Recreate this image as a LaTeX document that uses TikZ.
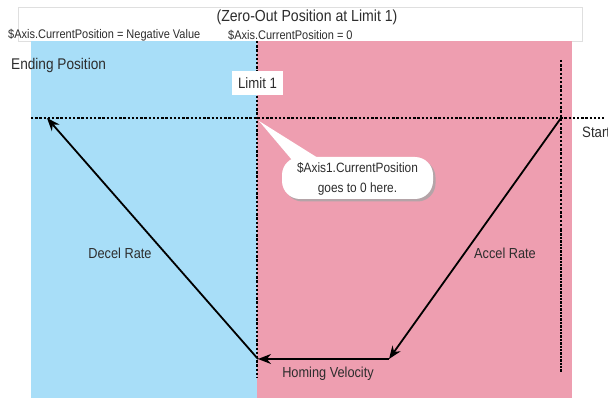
\documentclass[tikz,border=0pt]{standalone}
\usepackage{fontspec}
\setmainfont{Liberation Sans}[FakeStretch=0.88]
\usetikzlibrary{arrows.meta}
\definecolor{zoneblue}{RGB}{168,222,248}
\definecolor{zonepink}{RGB}{238,158,176}
\definecolor{txt}{RGB}{45,45,45}
\tikzset{
  lbl/.style={inner sep=0pt, text=txt, font=\fontsize{14.5}{17}\selectfont},
  dotline/.style={line width=2.4pt, dash pattern=on 2.4pt off 1.8pt, black},
  motion/.style={line width=1.8pt, black, -{Stealth[length=13pt,width=10pt]}},
}
\begin{document}
\begin{tikzpicture}[x=1pt,y=-1pt]
\useasboundingbox (0,0) rectangle (608,398);
\fill[white] (0,0) rectangle (608,398);
% header box
\node[draw=gray!25, fill=white, line width=1pt, minimum width=564pt, minimum height=34pt, inner sep=0pt, anchor=north west] (hdr) at (18,7) {};
% zones
\fill[zoneblue] (31,41) rectangle (257,398);
\fill[zonepink] (257,41) rectangle (572,398);
% header texts
\node[lbl, font=\fontsize{16}{19}\selectfont] (title) at (307,17) {(Zero-Out Position at Limit 1)};
\node[lbl, anchor=west, font=\fontsize{12.5}{15}\selectfont] (neg) at (8,35) {\$Axis.CurrentPosition = Negative Value};
\node[lbl, anchor=west, font=\fontsize{12.5}{15}\selectfont] (zero) at (228,35) {\$Axis.CurrentPosition = 0};
% dotted guide lines
\coordinate (hl) at (31,118);
\coordinate (hr) at (604,118);
\coordinate (vt) at (257,41);
\coordinate (vb) at (257,378);
\coordinate (rt) at (561,60);
\coordinate (rm) at (561,230);
\coordinate (rb) at (561,372);
\draw[dotline] (hl) -- (hr);
\draw[dotline] (vt) -- (vb);
\draw[dotline] (rt) -- (rm);
\draw[line width=2.4pt, dash pattern=on 2.4pt off 1pt] (rm) -- (rb);
% labels
\node[lbl, anchor=west, font=\fontsize{15.5}{18}\selectfont] (endpos) at (11,65) {Ending Position};
\node[lbl, fill=white, minimum width=51pt, minimum height=24pt, font=\fontsize{15}{18}\selectfont] (lim1) at (257.5,83) {Limit 1};
\node[lbl, anchor=west, font=\fontsize{15}{18}\selectfont] (start) at (582,132) {Start};
% callout
\fill[gray!70, opacity=0.8, shift={(2.5,2.5)}] (259,121) -- (318,158) -- (292,160) -- cycle;
\fill[gray!70, opacity=0.8, rounded corners=18pt, shift={(2.5,2.5)}] (282,157) rectangle (433,199);
\fill[white] (259,121) -- (318,158) -- (292,160) -- cycle;
\fill[white, rounded corners=18pt] (282,157) rectangle (433,199);
\node[lbl, align=center, font=\fontsize{13.5}{20}\selectfont] (note) at (357.5,179) {\$Axis1.CurrentPosition\\goes to 0 here.};
% motion profile
\coordinate (p0) at (561,118);
\coordinate (p1) at (389,359);
\coordinate (p2) at (258,359);
\coordinate (p3) at (47,118);
\draw[motion] (p0) -- (p1);
\draw[motion] (p1) -- (p2);
\draw[motion] (p2) -- (p3);
\node[lbl] (accel) at (505,253) {Accel Rate};
\node[lbl] (decel) at (120,253) {Decel Rate};
\node[lbl] (homing) at (328,374) {Homing Velocity};
\end{tikzpicture}
\end{document}
